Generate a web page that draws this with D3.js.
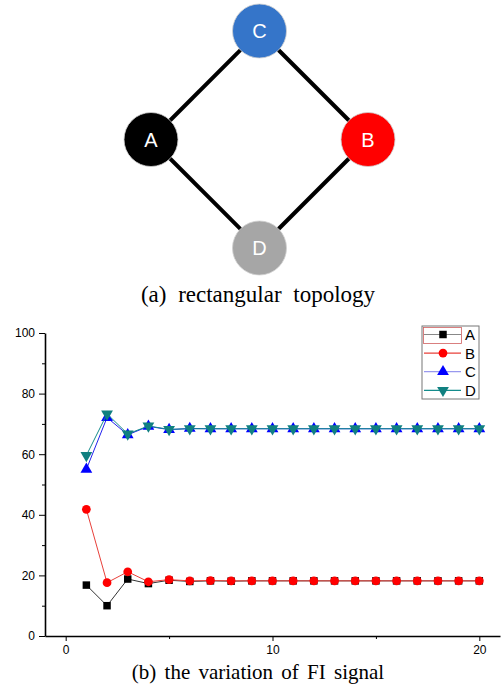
<!DOCTYPE html>
<html>
<head>
<meta charset="utf-8">
<script src="https://cdn.jsdelivr.net/npm/d3@7"></script>
<style>
  body { margin: 0; background: #fff; }
  svg { display: block; }
</style>
</head>
<body>
<script>
// Topology nodes (grid col / row in the diamond) and links
const nodeNames = ['A', 'B', 'C', 'D'];
const nodeCols = [0, 2, 1, 1];
const nodeRows = [1, 1, 0, 2];
const nodeColors = ['#000000', '#ff0000', '#3575c9', '#a6a6a6'];
const links = [['A', 'C'], ['C', 'B'], ['B', 'D'], ['D', 'A']];

// FI signal series
const steps = [1, 2, 3, 4, 5, 6, 7, 8, 9, 10, 11, 12, 13, 14, 15, 16, 17, 18, 19, 20];
const seriesA = [16.8, 10.0, 18.8, 17.3, 18.4, 18.0, 18.2, 18.1, 18.2, 18.2, 18.2, 18.2, 18.2, 18.2, 18.2, 18.2, 18.2, 18.2, 18.2, 18.2];
const seriesB = [41.8, 17.6, 21.2, 17.9, 18.6, 18.2, 18.3, 18.2, 18.2, 18.2, 18.2, 18.2, 18.2, 18.2, 18.2, 18.2, 18.2, 18.2, 18.2, 18.2];
const seriesC = [55.0, 72.1, 66.4, 69.2, 68.1, 68.5, 68.4, 68.4, 68.4, 68.4, 68.4, 68.4, 68.4, 68.4, 68.4, 68.4, 68.4, 68.4, 68.4, 68.4];
const seriesD = [59.6, 73.3, 66.7, 69.3, 68.2, 68.4, 68.4, 68.4, 68.4, 68.4, 68.4, 68.4, 68.4, 68.4, 68.4, 68.4, 68.4, 68.4, 68.4, 68.4];
const seriesNames = ['A', 'B', 'C', 'D'];
const xTicks = [0, 10, 20];
const yTicks = [0, 20, 40, 60, 80, 100];

const w = 502;
const h = 696;

const svg = d3.select('body')
  .append('svg')
  .attr('width', w)
  .attr('height', h);

// ---------- (a) topology ----------
const colScale = d3.scaleLinear().domain([0, 2]).range([151, 368]);
const rowScale = d3.scaleLinear().domain([0, 2]).range([31, 248]);
const nodes = nodeNames.map((n, i) => ({
  name: n, x: colScale(nodeCols[i]), y: rowScale(nodeRows[i]), color: nodeColors[i]
}));
const byName = Object.fromEntries(nodes.map(n => [n.name, n]));

const topo = svg.append('g');

topo.selectAll('line')
  .data(links)
  .enter()
  .append('line')
  .attr('x1', d => byName[d[0]].x)
  .attr('y1', d => byName[d[0]].y)
  .attr('x2', d => byName[d[1]].x)
  .attr('y2', d => byName[d[1]].y)
  .attr('stroke', '#000')
  .attr('stroke-width', 4);

const nodeG = topo.selectAll('g.node')
  .data(nodes)
  .enter()
  .append('g')
  .attr('class', 'node')
  .attr('transform', d => `translate(${d.x},${d.y})`);

nodeG.append('circle')
  .attr('r', 27)
  .attr('fill', d => d.color)
  .attr('stroke', '#d0d0d0')
  .attr('stroke-width', 0.8);

nodeG.append('text')
  .attr('text-anchor', 'middle')
  .attr('dy', '0.36em')
  .attr('fill', '#fff')
  .style('font-family', '"Liberation Sans", Arial, sans-serif')
  .style('font-size', '20px')
  .text(d => d.name);

svg.append('text')
  .attr('x', 258)
  .attr('y', 302)
  .attr('text-anchor', 'middle')
  .style('font-family', '"Liberation Serif", "Times New Roman", serif')
  .style('font-size', '23px')
  .style('word-spacing', '6px')
  .text('(a) rectangular topology');

// ---------- (b) line chart ----------
const xScale = d3.scaleLinear().domain([-1, 21]).range([45, 500]);
const yScale = d3.scaleLinear().domain([0, 100]).range([636, 333]);

const axisFont = '"Liberation Sans", Arial, sans-serif';

const xAxis = svg.append('g')
  .attr('transform', `translate(0, ${yScale(0)})`)
  .call(d3.axisBottom(xScale).tickValues(xTicks).tickSize(5).tickPadding(4).tickSizeOuter(0));
svg.append('g')
  .attr('transform', `translate(0, ${yScale(0)})`)
  .call(d3.axisBottom(xScale).tickValues([5, 15]).tickSize(3).tickFormat('').tickSizeOuter(0))
  .select('.domain').remove();

const yAxis = svg.append('g')
  .attr('transform', `translate(${xScale(-1)}, 0)`)
  .call(d3.axisLeft(yScale).tickValues(yTicks).tickSize(6).tickPadding(4).tickSizeOuter(0));
svg.append('g')
  .attr('transform', `translate(${xScale(-1)}, 0)`)
  .call(d3.axisLeft(yScale).tickValues([10, 30, 50, 70, 90]).tickSize(3).tickFormat('').tickSizeOuter(0))
  .select('.domain').remove();

[xAxis, yAxis].forEach((g) => {
  g.selectAll('text')
    .style('font-family', axisFont)
    .style('font-size', '12px')
    .attr('fill', '#000');
  g.select('.domain').attr('stroke-width', 1.6);
});

const seriesData = [seriesA, seriesB, seriesC, seriesD];
const lineColors = ['#333333', '#e8403a', '#2222ee', '#138c8c'];
const legendLineColors = ['#888888', '#e8403a', '#9999ee', '#138c8c'];
const markerColors = ['#000000', '#ff0000', '#0000ff', '#108080'];
const markerSymbols = [d3.symbolSquare, d3.symbolCircle, d3.symbolTriangle, d3.symbolTriangle];
const markerSizes = [56, 60, 60, 60];
const markerRotate = [0, 0, 0, 180];

const line = d3.line()
  .x(d => xScale(d[0]))
  .y(d => yScale(d[1]));

const plot = svg.append('g');

seriesData.forEach((vals, i) => {
  const pts = steps.map((s, j) => [s, vals[j]]);
  plot.append('path')
    .datum(pts)
    .attr('fill', 'none')
    .attr('stroke', lineColors[i])
    .attr('stroke-width', 1)
    .attr('d', line);
  plot.append('g')
    .selectAll('path')
    .data(pts)
    .enter()
    .append('path')
    .attr('d', d3.symbol().type(markerSymbols[i]).size(markerSizes[i]))
    .attr('transform', d => `translate(${xScale(d[0])},${yScale(d[1])}) rotate(${markerRotate[i]})`)
    .attr('fill', markerColors[i]);
});

// Legend
const legend = svg.append('g').attr('transform', 'translate(422, 326)');
legend.append('rect')
  .attr('width', 57)
  .attr('height', 73)
  .attr('fill', '#fff')
  .attr('stroke', '#777')
  .attr('stroke-width', 1);
legend.append('rect')
  .attr('x', 1.5)
  .attr('y', 1.5)
  .attr('width', 38)
  .attr('height', 16)
  .attr('fill', 'none')
  .attr('stroke', '#d06060')
  .attr('stroke-width', 0.8);

const item = legend.selectAll('g.item')
  .data(seriesNames)
  .enter()
  .append('g')
  .attr('class', 'item')
  .attr('transform', (d, i) => `translate(0, ${8.5 + i * 18.6})`);

item.append('line')
  .attr('x1', 2)
  .attr('x2', 39)
  .attr('stroke', (d, i) => legendLineColors[i])
  .attr('stroke-width', 1.2);
item.append('path')
  .attr('d', (d, i) => d3.symbol().type(markerSymbols[i]).size(markerSizes[i])())
  .attr('transform', (d, i) => `translate(21,0) rotate(${markerRotate[i]})`)
  .attr('fill', (d, i) => markerColors[i]);
item.append('text')
  .attr('x', 43)
  .attr('dy', '0.36em')
  .style('font-family', axisFont)
  .style('font-size', '15px')
  .text(d => d);

svg.append('text')
  .attr('x', 258)
  .attr('y', 679)
  .attr('text-anchor', 'middle')
  .style('font-family', '"Liberation Serif", "Times New Roman", serif')
  .style('font-size', '21px')
  .style('word-spacing', '3px')
  .text('(b) the variation of FI signal');
</script>
</body>
</html>
